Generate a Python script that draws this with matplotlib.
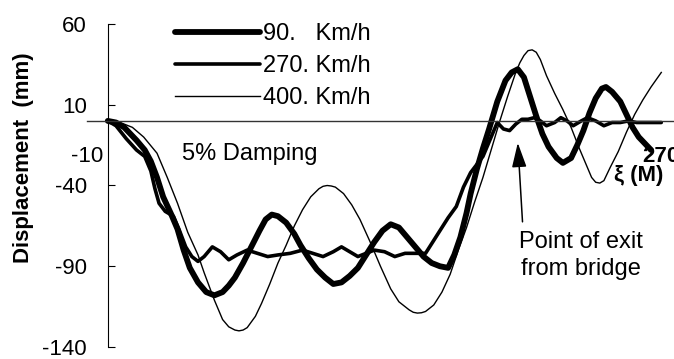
import matplotlib
matplotlib.use("Agg")
import matplotlib.pyplot as plt
import numpy as np

plt.rcParams['font.family'] = ['Liberation Sans', 'DejaVu Sans']

# ---- data ----
x_90 = [0, 4, 8, 14, 18, 21, 24, 27, 31, 34, 37, 40, 44, 48, 52, 56, 59, 62, 66, 70, 74, 77, 80, 83, 87, 91,
        94, 98, 102, 106, 110, 114, 118, 122, 126, 130, 134, 138, 142, 146, 150, 154, 158, 162, 166, 169, 172,
        175, 177, 180, 183, 186, 190, 194, 197, 200, 203, 206, 209, 212, 215, 219, 222, 226, 229, 232, 235,
        238, 241, 243, 246, 250, 253, 256, 259, 262, 265]
y_90 = [0, -1, -4, -12, -18, -25, -35, -47, -58, -67, -80, -91, -100, -106, -108, -106, -102, -97, -88, -78,
        -68, -61, -58, -59, -63, -70, -77, -85, -92, -97, -101, -100, -96, -91, -83, -75, -68, -64, -66, -72,
        -78, -84, -88, -90, -91, -83, -72, -57, -45, -30, -17, -5, 12, 25, 30, 32, 27, 15, 3, -8, -16, -23,
        -26, -23, -15, -6, 5, 14, 20, 21, 18, 12, 4, -4, -10, -14, -18]

x_270 = [0, 4, 9, 14, 18, 21, 23, 25, 28, 32, 35, 38, 41, 44, 47, 51, 55, 59, 63, 68, 73, 78, 83, 89, 95,
         100, 105, 110, 114, 118, 122, 126, 130, 135, 140, 145, 150, 155, 160, 163, 166, 170, 173.5, 177, 180,
         183, 187, 190, 193, 196, 199, 202, 205, 208, 211, 214, 218, 221, 224, 227, 231, 234, 238, 242, 246,
         250, 254, 258, 262, 266, 270]
y_270 = [0, -3, -11, -18, -22, -31, -42, -51, -56, -59, -68, -78, -84, -87, -84, -78, -81, -86, -83, -80,
         -82, -84, -83, -82, -80, -82, -84, -81, -78, -81, -84, -82, -80, -81, -84, -82, -82, -82, -72, -66,
         -60, -53, -41, -32, -27, -22, -10, -1, -5, -6, -2, 1, 1, 2, 0, -3, -1, 2, 0, -3, 0, 2, 0, -3, -1,
         -1, 0, -1, -1, -1, -1]

x_400 = [0, 6, 12, 17.5, 24, 29, 34, 39, 44, 47, 52, 56, 59, 62, 64, 66, 68, 72, 75, 79, 83, 87, 91, 95, 99,
         103, 105, 107, 109, 111, 115, 119, 123, 128, 133, 138, 142, 147, 149, 151, 153, 155, 159, 163, 167,
         171, 175, 179, 183, 187, 191, 195, 199, 201, 203, 205, 207, 209, 211, 214, 218, 222, 226, 230, 234,
         236, 238, 240, 242, 245, 249, 253, 257, 261, 265, 270]
y_400 = [0, -1, -4, -10, -20, -35, -51, -69, -83, -94, -111, -123, -127.5, -129.5, -130, -129.5, -128, -121,
         -113, -101, -88, -77, -65, -55, -47, -42, -40.5, -40, -40.3, -41, -45, -52, -61, -75, -90, -104, -112,
         -117, -118.5, -119, -118.8, -118, -114, -106, -95, -80, -66, -50, -35, -18, -1, 15, 30, 36, 40.5,
         43.5, 44, 42.5, 38, 28, 17, 7, -4, -17, -29, -35, -38, -38.5, -37, -29, -19, -7, 4, 13, 21, 30]

labels = ['90.   Km/h', '270. Km/h', '400. Km/h']
yticks = [60, 10, -40, -90, -140]
xticks = [-10, 270]
xticklabels = ['-10', '270']

# ---- figure ----
W, H = 674, 359
fig = plt.figure(figsize=(W / 100, H / 100), dpi=100)
ax = fig.add_axes([87.3 / W, 12 / H, (W - 87.3) / W, 323 / H])
ax.set_xlim(-10, 276.2)
ax.set_ylim(-140, 60)

ax.plot(x_90, y_90, color='black', lw=4.2, solid_capstyle='round', solid_joinstyle='round', label=labels[0])
ax.plot(x_270, y_270, color='black', lw=2.6, solid_capstyle='round', solid_joinstyle='round', label=labels[1])
ax.plot(x_400, y_400, color='black', lw=1.0, label=labels[2])

for s in ['top', 'right']:
    ax.spines[s].set_visible(False)
ax.spines['left'].set_position(('data', 0))
ax.spines['left'].set_bounds(-140, 60)
ax.spines['left'].set_linewidth(0.8)
ax.spines['bottom'].set_position(('data', 0))
ax.spines['bottom'].set_linewidth(1.0)
ax.spines['bottom'].set_color('#333333')

ax.set_yticks(yticks)
ax.set_yticklabels([str(v) for v in yticks])
ax.tick_params(axis='y', direction='in', length=5, width=0.8, pad=15, labelsize=16)
ax.set_xticks(xticks)
ax.set_xticklabels(xticklabels)
ax.tick_params(axis='x', length=0, pad=18, labelsize=16)
ax.get_xticklabels()[1].set_fontweight('bold')

ax.text(247, -37.5, 'ξ (M)', fontsize=16, fontweight='bold', ha='left', va='baseline', clip_on=False)
ax.text(36, -24, '5% Damping', fontsize=17, ha='left', va='baseline')
ax.text(231, -68, 'Point of exit\nfrom bridge', fontsize=17, ha='center', va='top', linespacing=1.3)
ax.annotate('', xy=(200, -13.6), xytext=(202.3, -62.5),
            arrowprops=dict(arrowstyle='-|>,head_length=1.5,head_width=0.45', mutation_scale=10,
                            color='black', lw=1.1, shrinkA=0, shrinkB=0))

fig.text(24 / W, 1 - 158 / H, 'Displacement  (mm)', rotation=90, fontsize=16, fontweight='bold',
         ha='center', va='center')

leg = ax.legend(loc='upper left', bbox_to_anchor=(175 / W, 1 - 23 / H), bbox_transform=fig.transFigure,
                frameon=False, fontsize=17, handlelength=3.6, handletextpad=0.12, labelspacing=0.42,
                borderpad=0, borderaxespad=0)

fig.savefig('out.png', dpi=100)
